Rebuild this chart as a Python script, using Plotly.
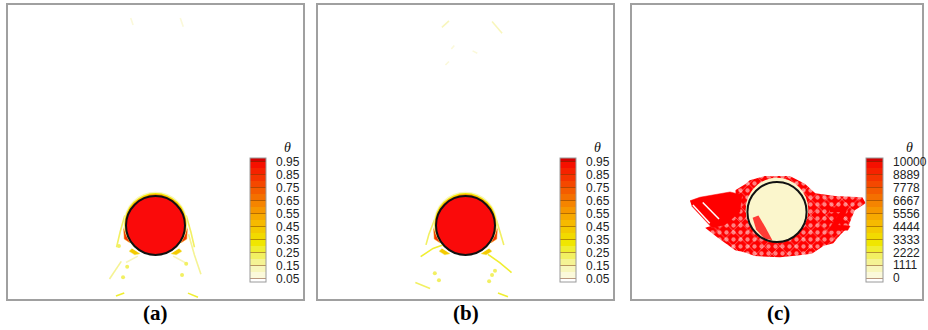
import plotly.graph_objects as go

W, H = 928, 330

# ---------------- data ----------------
# contour levels / legend (panels a, b)
theta_edges = [0.022, 0.05, 0.10, 0.15, 0.20, 0.25, 0.30, 0.35, 0.40, 0.45, 0.50,
               0.55, 0.60, 0.65, 0.70, 0.75, 0.80, 0.85, 0.90, 0.95, 0.977]
theta_ticks = [0.05, 0.15, 0.25, 0.35, 0.45, 0.55, 0.65, 0.75, 0.85, 0.95]
theta_ticktext = ["0.05", "0.15", "0.25", "0.35", "0.45", "0.55", "0.65", "0.75", "0.85", "0.95"]

# legend (panel c)
c_edges = [-320, 0, 555.6, 1111.1, 1666.7, 2222.2, 2777.8, 3333.3, 3888.9, 4444.4, 5000,
           5555.6, 6111.1, 6666.7, 7222.2, 7777.8, 8333.3, 8888.9, 9444.4, 10000, 10300]
c_ticks = [0, 1111.1, 2222.2, 3333.3, 4444.4, 5555.6, 6666.7, 7777.8, 8888.9, 10000]
c_ticktext = ["0", "1111", "2222", "3333", "4444", "5556", "6667", "7778", "8889", "10000"]

band_colors = ["#FFFFFF", "#FBF9DA", "#F8F6BC", "#F5F394", "#F2F062", "#F0EE30",
               "#F0E600", "#F2DA00", "#F4CA00", "#F6BA00", "#F7A900", "#F69700",
               "#F58400", "#F47000", "#F45C00", "#F44800", "#F53400", "#F62200",
               "#F61000", "#D40000"]

# cylinder (centre x, centre y, radius) per panel
cyl_a = (2.5, 1.25, 0.5)
cyl_b = (2.5, 1.25, 0.5)
cyl_c = (2.5, 1.48, 0.51)

# thin streaks of theta (x list, y list, strength)
streaks_a = [
    ([2.08, 2.12], [4.78, 4.66], 0.08),
    ([2.92, 2.97], [4.78, 4.63], 0.08),
    ([1.98, 1.90, 1.84], [1.42, 1.14, 0.88], 0.22),
    ([3.02, 3.10, 3.16], [1.42, 1.14, 0.88], 0.22),
    ([1.92, 1.82, 1.72], [0.64, 0.50, 0.34], 0.18),
    ([3.06, 3.16, 3.27], [1.10, 0.75, 0.42], 0.18),
    ([2.20, 2.00], [0.73, 0.62], 0.15),
    ([2.80, 3.00], [0.73, 0.62], 0.15),
    ([1.83, 1.97], [0.05, 0.10], 0.3),
    ([3.05, 3.22], [0.10, 0.03], 0.3),
]
blobs_a_x = [1.95, 2.95, 3.02, 1.88, 2.02]
blobs_a_y = [0.37, 0.41, 0.60, 0.90, 0.55]

streaks_b = [
    ([2.10, 2.22], [4.62, 4.73], 0.12),
    ([2.95, 3.12], [4.72, 4.52], 0.12),
    ([2.26, 2.31], [4.25, 4.31], 0.07),
    ([2.62, 2.70], [4.22, 4.18], 0.07),
    ([2.16, 2.22], [3.98, 4.04], 0.07),
    ([1.98, 1.88, 1.83], [1.36, 1.10, 0.92], 0.22),
    ([3.02, 3.10, 3.15], [1.36, 1.10, 0.92], 0.22),
    ([1.74, 1.95, 2.15], [0.72, 0.86, 0.93], 0.3),
    ([2.88, 3.08, 3.28], [0.76, 0.62, 0.45], 0.3),
    ([1.65, 1.90], [0.28, 0.18], 0.25),
    ([3.05, 3.22], [0.10, 0.04], 0.3),
]
blobs_b_x = [1.98, 2.05, 2.95, 2.90, 3.00]
blobs_b_y = [0.44, 0.32, 0.41, 0.30, 0.48]

# warm wedges hugging the cylinder sides (x list, y list, theta)
wedges = [
    ([2.00, 1.96, 1.97, 2.06, 2.10], [1.33, 1.18, 1.02, 0.96, 1.00], 0.85),
    ([3.00, 3.04, 3.03, 2.94, 2.90], [1.33, 1.18, 1.02, 0.96, 1.00], 0.85),
    ([2.10, 2.05, 2.15, 2.24], [0.86, 0.81, 0.75, 0.77], 0.45),
    ([2.90, 2.95, 2.85, 2.76], [0.86, 0.81, 0.75, 0.77], 0.45),
]

# panel (c) regions of high value
c_wing_x = [1.00, 1.17, 1.69, 1.90, 1.86, 1.60, 1.38, 1.17, 1.03]
c_wing_y = [1.67, 1.73, 1.82, 1.77, 1.48, 1.26, 1.21, 1.43, 1.58]
c_mottle_x = [1.78, 1.95, 2.03, 2.29, 2.72, 2.98, 3.16, 3.50, 3.97, 4.03, 3.84, 3.72, 3.60,
              3.47, 3.30, 3.10, 2.85, 2.55, 2.12, 1.95, 1.78, 1.48, 1.26, 1.60, 1.83]
c_mottle_y = [1.85, 1.95, 2.02, 2.09, 2.09, 1.96, 1.80, 1.75, 1.73, 1.63, 1.51, 1.21, 1.10,
              0.95, 0.90, 0.77, 0.74, 0.71, 0.73, 0.79, 0.83, 1.04, 1.21, 1.31, 1.55]
c_z_x = [3.41, 3.72, 3.67, 3.55, 3.76, 3.72, 3.38, 3.52, 3.59, 3.41]
c_z_y = [1.55, 1.56, 1.42, 1.26, 1.24, 1.17, 1.17, 1.38, 1.48, 1.48]
c_stripes = [([1.05, 1.34], [1.60, 1.29]), ([1.22, 1.50], [1.64, 1.36])]
c_inner_x = [2.08, 2.18, 2.30, 2.42, 2.28, 2.14]
c_inner_y = [1.38, 1.42, 1.22, 1.00, 1.03, 1.18]

# ---------------- helpers ----------------
def color_at(v, edges, colors):
    for i in range(len(colors)):
        if v <= edges[i + 1]:
            return colors[i]
    return colors[-1]

def make_scale(edges, colors):
    lo, hi = edges[0], edges[-1]
    sc = []
    for i, c in enumerate(colors):
        sc.append([(edges[i] - lo) / (hi - lo), c])
        sc.append([(edges[i + 1] - lo) / (hi - lo), c])
    return sc

panels = [
    dict(x0=8, x1=303),
    dict(x0=318, x1=613),
    dict(x0=632, x1=922),
]
ytop, ybot = 5, 299

fig = go.Figure()

def ax(i):
    return ("x" if i == 0 else f"x{i+1}", "y" if i == 0 else f"y{i+1}")

# streaks / wedges for panels a and b
for i, (streaks, bx, by) in enumerate([(streaks_a, blobs_a_x, blobs_a_y),
                                       (streaks_b, blobs_b_x, blobs_b_y)]):
    xa, ya = ax(i)
    for xs, ys, v in streaks:
        fig.add_trace(go.Scatter(x=xs, y=ys, mode="lines", xaxis=xa, yaxis=ya,
                                 line=dict(color=color_at(v, theta_edges, band_colors), width=1.6),
                                 hoverinfo="skip", showlegend=False))
    fig.add_trace(go.Scatter(x=bx, y=by, mode="markers", xaxis=xa, yaxis=ya,
                             marker=dict(color=color_at(0.22, theta_edges, band_colors), size=4),
                             hoverinfo="skip", showlegend=False))
    for xs, ys, v in wedges:
        fig.add_trace(go.Scatter(x=xs, y=ys, mode="lines", fill="toself", xaxis=xa, yaxis=ya,
                                 fillcolor=color_at(v, theta_edges, band_colors),
                                 line=dict(width=0.5, color=color_at(v - 0.3, theta_edges, band_colors)),
                                 hoverinfo="skip", showlegend=False))

# panel c red regions
xa, ya = ax(2)
fig.add_trace(go.Scatter(x=c_mottle_x, y=c_mottle_y, mode="lines", fill="toself",
                         xaxis=xa, yaxis=ya, line=dict(width=0, color="#FF0000"),
                         fillcolor="#FF0000",
                         fillpattern=dict(shape=".", fgcolor="#FFFFFF", bgcolor="#FF0000",
                                          size=7, solidity=0.3),
                         hoverinfo="skip", showlegend=False))
fig.add_trace(go.Scatter(x=c_mottle_x, y=c_mottle_y, mode="lines", fill="toself",
                         xaxis=xa, yaxis=ya, line=dict(width=0, color="rgba(0,0,0,0)"),
                         fillcolor="rgba(0,0,0,0)",
                         fillpattern=dict(shape="x", fgcolor="#FFFFFF", bgcolor="rgba(0,0,0,0)",
                                          size=11, solidity=0.12),
                         hoverinfo="skip", showlegend=False))
for xs, ys in [(c_wing_x, c_wing_y), (c_z_x, c_z_y)]:
    fig.add_trace(go.Scatter(x=xs, y=ys, mode="lines", fill="toself", xaxis=xa, yaxis=ya,
                             line=dict(width=0.5, color="#FF0000"), fillcolor="#FF0000",
                             hoverinfo="skip", showlegend=False))
for xs, ys in c_stripes:
    fig.add_trace(go.Scatter(x=xs, y=ys, mode="lines", xaxis=xa, yaxis=ya,
                             line=dict(width=1.5, color="#FFFFFF"),
                             hoverinfo="skip", showlegend=False))

# dummy traces carrying the colour legends
for i in range(3):
    xa, ya = ax(i)
    fig.add_trace(go.Scatter(x=[2.5], y=[4.0], mode="markers", xaxis=xa, yaxis=ya,
                             marker=dict(color=[0.5 if i < 2 else 5000], size=1, opacity=0,
                                         coloraxis="coloraxis" if i == 0 else f"coloraxis{i+1}"),
                             hoverinfo="skip", showlegend=False))

# shapes: cylinders
shapes = []
def circ(xref, yref, cx, cy, r, fill, line_color="rgba(0,0,0,0)", lw=0):
    return dict(type="circle", xref=xref, yref=yref, x0=cx - r, x1=cx + r, y0=cy - r, y1=cy + r,
                fillcolor=fill, line=dict(color=line_color, width=lw), layer="above")

for i, cyl in enumerate([cyl_a, cyl_b]):
    xa, ya = ax(i)
    cx, cy, r = cyl
    shapes.append(circ(xa, ya, cx, cy + 0.035, r + 0.04, color_at(0.12, theta_edges, band_colors)))
    shapes.append(circ(xa, ya, cx, cy + 0.025, r + 0.027, color_at(0.33, theta_edges, band_colors)))
    shapes.append(circ(xa, ya, cx, cy + 0.015, r + 0.015, color_at(0.62, theta_edges, band_colors)))
    shapes.append(circ(xa, ya, cx, cy, r, "#FA0A0A", "#111111", 2))

xa, ya = ax(2)
cx, cy, r = cyl_c
shapes.append(circ(xa, ya, cx, cy + 0.04, r + 0.03, "#FBF6CC"))
path = "M " + " L ".join(f"{x},{y}" for x, y in zip(c_inner_x, c_inner_y)) + " Z"
shapes.append(dict(type="path", xref=xa, yref=ya, path=path, fillcolor="#FF1A1A",
                   line=dict(width=0), layer="above", opacity=0.85))
shapes.append(circ(xa, ya, cx, cy, r, "rgba(0,0,0,0)", "#111111", 2))

# axes
layout_axes = {}
for i, p in enumerate(panels):
    sfx = "" if i == 0 else str(i + 1)
    common = dict(range=[0, 5], showgrid=False, zeroline=False, showticklabels=False,
                  ticks="", showline=True, mirror=True, linecolor="#A0A0A0", linewidth=1.5,
                  fixedrange=True)
    layout_axes["xaxis" + sfx] = dict(domain=[p["x0"] / W, p["x1"] / W],
                                      anchor="y" + sfx, **common)
    layout_axes["yaxis" + sfx] = dict(domain=[1 - ybot / H, 1 - ytop / H],
                                      anchor="x" + sfx, **common)

NB = "\u00a0\u00a0"

def cbar(xpx, ticks, ticktext, thick):
    return dict(x=xpx / W, xanchor="left", y=1 - 158 / H, yanchor="top",
                len=124, lenmode="pixels", thickness=thick, thicknessmode="pixels",
                xpad=0, ypad=0, outlinecolor="#9A9A9A", outlinewidth=1,
                tickvals=ticks, ticktext=[NB + t for t in ticktext], ticks="inside", ticklen=thick,
                tickcolor="rgba(120,50,0,0.5)", tickwidth=1,
                tickfont=dict(family="Liberation Sans, Arial", size=12, color="#222222"))

coloraxes = dict(
    coloraxis=dict(cmin=theta_edges[0], cmax=theta_edges[-1],
                   colorscale=make_scale(theta_edges, band_colors),
                   colorbar=cbar(250, theta_ticks, theta_ticktext, 16)),
    coloraxis2=dict(cmin=theta_edges[0], cmax=theta_edges[-1],
                    colorscale=make_scale(theta_edges, band_colors),
                    colorbar=cbar(560, theta_ticks, theta_ticktext, 16)),
    coloraxis3=dict(cmin=c_edges[0], cmax=c_edges[-1],
                    colorscale=make_scale(c_edges, band_colors),
                    colorbar=cbar(866, c_ticks, c_ticktext, 17)),
)

annotations = []
for xpx in [287, 597, 909]:
    annotations.append(dict(text="<i>θ</i>", x=xpx / W, y=1 - 147 / H, xref="paper", yref="paper",
                            showarrow=False, xanchor="center", yanchor="middle",
                            font=dict(family="Liberation Serif, Times New Roman", size=14,
                                      color="#111111")))
for lab, xpx in [("(a)", 155), ("(b)", 466), ("(c)", 778)]:
    annotations.append(dict(text=f"<b>{lab}</b>", x=xpx / W, y=1 - 313 / H, xref="paper",
                            yref="paper", showarrow=False, xanchor="center", yanchor="middle",
                            font=dict(family="Liberation Serif, Times New Roman", size=21,
                                      color="#000000")))

fig.update_layout(width=W, height=H, margin=dict(l=0, r=0, t=0, b=0, autoexpand=False),
                  paper_bgcolor="white", plot_bgcolor="white", showlegend=False,
                  shapes=shapes, annotations=annotations, **layout_axes, **coloraxes)

fig.write_html("out.html", config={"displayModeBar": False})
